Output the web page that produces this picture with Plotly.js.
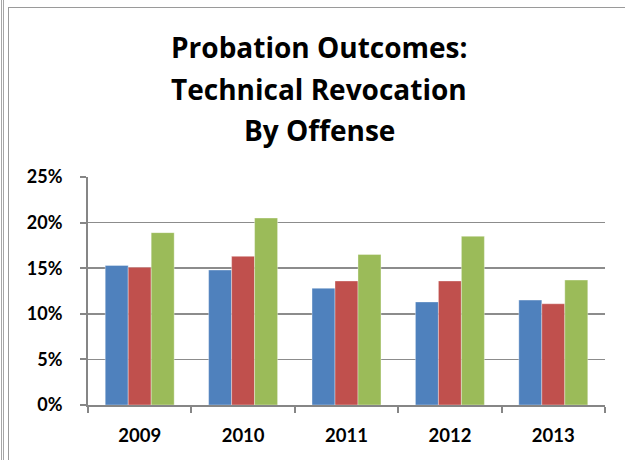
<!DOCTYPE html>
<html>
<head>
<meta charset="utf-8">
<script src="https://cdn.plot.ly/plotly-3.0.1.min.js"></script>
<style>
  html, body { margin: 0; padding: 0; background: #ffffff; }
  #wrap { position: relative; width: 625px; height: 460px; overflow: hidden; background: #fff; }
  .vl { position: absolute; top: 0; bottom: 0; width: 1px; background: #a6a6a6; }
  #frame { position: absolute; left: 8px; top: 7px; width: 700px; height: 500px;
           border-left: 1px solid #9a9a9a; border-top: 1px solid #9a9a9a; box-sizing: border-box; }
  #chart { position: absolute; left: 0; top: 0; width: 625px; height: 460px; }
</style>
</head>
<body>
<div id="wrap">
  <div class="vl" style="left:1px"></div>
  <div class="vl" style="left:3px"></div>
  <div id="frame"></div>
  <div id="chart"></div>
</div>
<script>
const years = ['2009', '2010', '2011', '2012', '2013'];
const seriesA = [15.3, 14.8, 12.8, 11.3, 11.5];
const seriesB = [15.1, 16.3, 13.6, 13.6, 11.1];
const seriesC = [18.9, 20.5, 16.5, 18.5, 13.7];
const yTicks = [0, 5, 10, 15, 20, 25];
const yTickText = ['0%', '5%', '10%', '15%', '20%', '25%'];
const titleLines = ['Probation Outcomes:', 'Technical Revocation', 'By Offense'];

const colors = ['#4F81BD', '#C0504D', '#9BBB59'];
const FONT = 'Lato, "Open Sans", sans-serif';
const TFONT = '"Open Sans", Lato, sans-serif';

function bar(vals, i) {
  return {
    type: 'bar', x: years, y: vals,
    marker: { color: colors[i], line: { color: 'rgba(255,255,255,0.35)', width: 1 } },
    hoverinfo: 'none'
  };
}

const titleY = [46.5, 88.5, 130];
const annotations = titleLines.map((t, i) => ({
  text: '<b>' + t + '</b>', xref: 'paper', yref: 'paper',
  x: (319 - 88) / 517, y: (405 - titleY[i]) / 228,
  xanchor: 'center', yanchor: 'middle', showarrow: false,
  font: { family: TFONT, size: 28, color: '#000' }
}));

const layout = {
  width: 625, height: 460,
  margin: { l: 88, r: 20, t: 177, b: 55, pad: 0 },
  paper_bgcolor: 'rgba(0,0,0,0)', plot_bgcolor: 'rgba(0,0,0,0)',
  showlegend: false,
  barmode: 'group', bargap: 0.333, bargroupgap: 0,
  font: { family: FONT, color: '#000' },
  annotations: annotations,
  xaxis: {
    type: 'category', tickson: 'boundaries',
    ticks: 'outside', ticklen: 6, tickwidth: 2, tickcolor: '#868686',
    showline: true, linecolor: '#868686', linewidth: 2,
    showgrid: false, zeroline: false,
    tickfont: { family: FONT, size: 18.5, color: '#000', weight: 'bold' },
    ticklabelstandoff: 13
  },
  yaxis: {
    range: [0, 25], tickvals: yTicks, ticktext: yTickText,
    ticks: 'outside', ticklen: 6, tickwidth: 2, tickcolor: '#868686',
    showline: true, linecolor: '#868686', linewidth: 2,
    showgrid: true, gridcolor: '#8c8c8c', gridwidth: 1.5, zeroline: false,
    tickfont: { family: FONT, size: 18, color: '#000', weight: 'bold' },
    ticklabelstandoff: 14
  }
};

Plotly.newPlot('chart', [bar(seriesA, 0), bar(seriesB, 1), bar(seriesC, 2)], layout,
  { displayModeBar: false, staticPlot: true });
</script>
</body>
</html>
